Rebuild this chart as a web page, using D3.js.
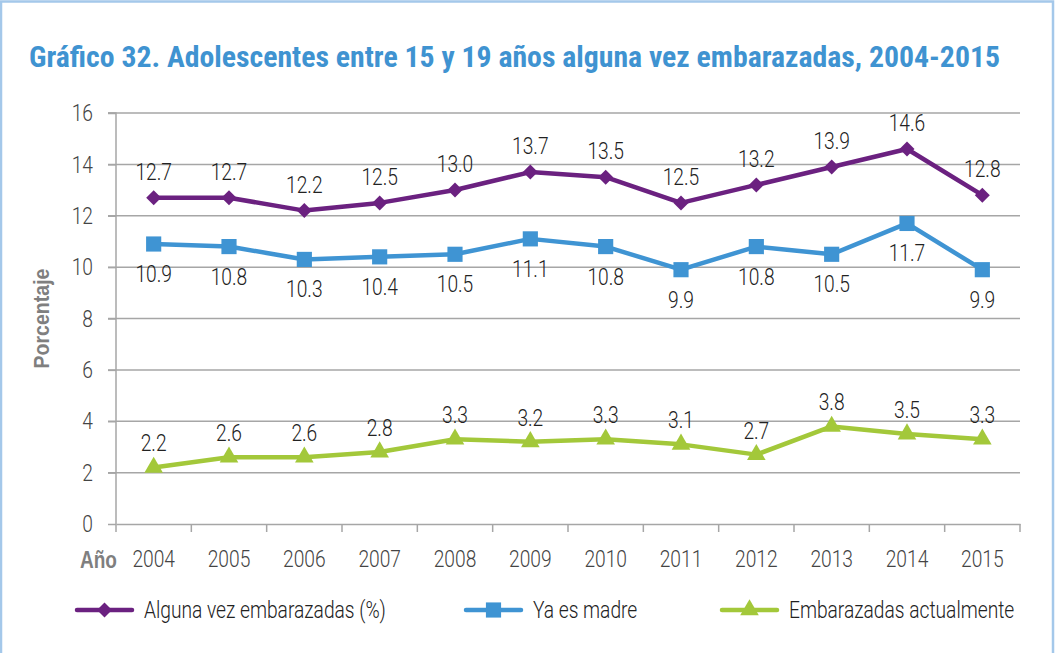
<!DOCTYPE html>
<html>
<head>
<meta charset="utf-8">
<script src="https://cdn.jsdelivr.net/npm/d3@7"></script>
<style>
  body { margin: 0; background: #fff; }
  svg { display: block; }
  .tick text { font-family: Roboto, "Liberation Sans", sans-serif; font-weight: 300; fill: #333; }
</style>
</head>
<body>
<div id="chart"></div>
<script>
var years = ["2004", "2005", "2006", "2007", "2008", "2009", "2010", "2011", "2012", "2013", "2014", "2015"];
var algunaVez = [12.7, 12.7, 12.2, 12.5, 13.0, 13.7, 13.5, 12.5, 13.2, 13.9, 14.6, 12.8];
var yaEsMadre = [10.9, 10.8, 10.3, 10.4, 10.5, 11.1, 10.8, 9.9, 10.8, 10.5, 11.7, 9.9];
var embarazadas = [2.2, 2.6, 2.6, 2.8, 3.3, 3.2, 3.3, 3.1, 2.7, 3.8, 3.5, 3.3];
var yTicks = [0, 2, 4, 6, 8, 10, 12, 14, 16];

var width = 1059, height = 653;
var margin = { left: 116, right: 39, top: 113, bottom: 129 };
var squeeze = 0.8; // letra estrecha

// rombo "cuadrado" como el de Excel
var diamond = {
    draw: function (ctx, size) {
        var r = Math.sqrt(size) / 2;
        ctx.moveTo(0, -r); ctx.lineTo(r, 0); ctx.lineTo(0, r); ctx.lineTo(-r, 0); ctx.closePath();
    }
};

var series = [
    { name: "Alguna vez embarazadas (%)", values: algunaVez, color: "#6b2180", symbol: diamond, size: 225, offset: -18, legendX: 77 },
    { name: "Ya es madre", values: yaEsMadre, color: "#3f94d3", symbol: d3.symbolSquare, size: 230, offset: 38, legendX: 466 },
    { name: "Embarazadas actualmente", values: embarazadas, color: "#a3c83a", symbol: d3.symbolTriangle, size: 150, offset: -16, legendX: 722 }
];

function condense(sel) {
    sel.each(function () {
        var t = d3.select(this);
        var x0 = +t.attr("x") || 0;
        t.attr("transform", "translate(" + (x0 * (1 - squeeze)) + ",0) scale(" + squeeze + ",1)");
    });
}

var svg = d3.select("#chart").append("svg")
    .attr("width", width)
    .attr("height", height);

// marco
svg.append("rect")
    .attr("x", 1).attr("y", 1.5)
    .attr("width", 1052).attr("height", 660)
    .attr("fill", "none")
    .attr("stroke", "#a4c8ea")
    .attr("stroke-width", 2.5);

svg.append("text")
    .attr("x", width / 2 - 15)
    .attr("y", 67)
    .attr("text-anchor", "middle")
    .attr("textLength", 971)
    .attr("lengthAdjust", "spacingAndGlyphs")
    .style("font-family", "'Liberation Sans Narrow', 'Roboto Condensed', 'Liberation Sans', sans-serif")
    .style("font-weight", "bold")
    .style("font-size", "29px")
    .style("fill", "#3f93d1")
    .text("Gráfico 32. Adolescentes entre 15 y 19 años alguna vez embarazadas, 2004-2015");

var x = d3.scaleBand()
    .domain(years)
    .range([margin.left, width - margin.right]);

var y = d3.scaleLinear()
    .domain([0, 16])
    .range([height - margin.bottom, margin.top]);

// grid
svg.append("g")
    .selectAll("line")
    .data(yTicks.slice(1))
    .enter().append("line")
    .attr("x1", margin.left - 8)
    .attr("x2", width - margin.right)
    .attr("y1", function (d) { return y(d); })
    .attr("y2", function (d) { return y(d); })
    .attr("stroke", "#a6a6a6")
    .attr("stroke-width", 1.5);

var yAxis = svg.append("g")
    .attr("transform", "translate(" + margin.left + ",0)")
    .call(d3.axisLeft(y).tickValues(yTicks).tickSize(8).tickPadding(15));
yAxis.selectAll("line, path").attr("stroke", "#a6a6a6").attr("stroke-width", 1.5);
yAxis.select(".domain").attr("d", "M-8," + y(16) + "H0V" + y(0));
yAxis.selectAll("text").style("font-size", "24px").style("fill", "#444").call(condense);

var xAxis = svg.append("g")
    .attr("transform", "translate(0," + y(0) + ")")
    .call(d3.axisBottom(x).tickSize(0).tickPadding(26));
xAxis.select(".domain").attr("stroke", "#a6a6a6").attr("stroke-width", 1.5);
xAxis.selectAll("text").style("font-size", "24px").style("fill", "#444").call(condense);

// marcas entre categorías
svg.append("g")
    .selectAll("line")
    .data(years.concat(["end"]))
    .enter().append("line")
    .attr("x1", function (d, i) { return margin.left + i * x.step(); })
    .attr("x2", function (d, i) { return margin.left + i * x.step(); })
    .attr("y1", y(0))
    .attr("y2", y(0) + 8)
    .attr("stroke", "#a6a6a6")
    .attr("stroke-width", 1.5);

svg.append("text")
    .attr("x", 80)
    .attr("y", y(0) + 44)
    .attr("textLength", 37)
    .attr("lengthAdjust", "spacingAndGlyphs")
    .style("font-family", "'Liberation Sans Narrow', 'Liberation Sans', sans-serif")
    .style("font-weight", "bold")
    .style("font-size", "23px")
    .style("fill", "#7f7f7f")
    .text("Año");

svg.append("text")
    .attr("transform", "translate(49," + ((y(0) + y(16)) / 2) + ") rotate(-90)")
    .attr("text-anchor", "middle")
    .attr("textLength", 100)
    .attr("lengthAdjust", "spacingAndGlyphs")
    .style("font-family", "'Liberation Sans Narrow', 'Liberation Sans', sans-serif")
    .style("font-weight", "bold")
    .style("font-size", "22px")
    .style("fill", "#7f7f7f")
    .text("Porcentaje");

var cx = function (i) { return x(years[i]) + x.bandwidth() / 2; };

var line = d3.line()
    .x(function (d, i) { return cx(i); })
    .y(function (d) { return y(d); });

series.forEach(function (s) {
    var g = svg.append("g");
    g.append("path")
        .datum(s.values)
        .attr("d", line)
        .attr("fill", "none")
        .attr("stroke", s.color)
        .attr("stroke-width", 4.5)
        .attr("stroke-linejoin", "round");

    g.selectAll(".pt")
        .data(s.values)
        .enter().append("path")
        .attr("class", "pt")
        .attr("d", d3.symbol().type(s.symbol).size(s.size))
        .attr("transform", function (d, i) { return "translate(" + cx(i) + "," + y(d) + ")"; })
        .attr("fill", s.color);

    g.selectAll(".lbl")
        .data(s.values)
        .enter().append("text")
        .attr("class", "lbl")
        .attr("x", function (d, i) { return cx(i); })
        .attr("y", function (d) { return y(d) + s.offset; })
        .attr("text-anchor", "middle")
        .style("font-family", "Roboto, 'Liberation Sans', sans-serif")
        .style("font-weight", 300)
        .style("font-size", "24px")
        .style("fill", "#222")
        .text(function (d) { return d.toFixed(1); })
        .call(condense);
});

// leyenda
var legendY = 610;
series.forEach(function (s) {
    var g = svg.append("g").attr("transform", "translate(" + s.legendX + "," + legendY + ")");
    g.append("line")
        .attr("x1", 0).attr("x2", 55)
        .attr("stroke", s.color)
        .attr("stroke-width", 4.5)
        .attr("stroke-linecap", "round");
    g.append("path")
        .attr("d", d3.symbol().type(s.symbol).size(s.size))
        .attr("transform", "translate(27.5,0)")
        .attr("fill", s.color);
    g.append("text")
        .attr("x", 67)
        .attr("y", 8)
        .style("font-family", "Roboto, 'Liberation Sans', sans-serif")
        .style("font-weight", 300)
        .style("font-size", "24px")
        .style("fill", "#222")
        .text(s.name)
        .call(condense);
});
</script>
</body>
</html>
